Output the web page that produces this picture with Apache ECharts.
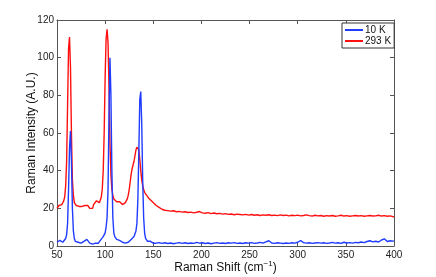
<!DOCTYPE html>
<html>
<head>
<meta charset="utf-8">
<script src="https://cdn.jsdelivr.net/npm/echarts@6/dist/echarts.min.js"></script>
<style>html,body{margin:0;padding:0;background:#fff}#c{width:436px;height:277px}</style>
</head>
<body>
<div id="c"></div>
<script>
// Raman shift (cm^-1)
const shift = [
50,51,52,53,54,55,56,57,58,59,60,61,62,63,64,65,66,67,68,69,
70,71,72,73,74,75,76,77,78,79,80,81,82,83,84,85,86,87,88,89,
90,91,92,93,94,95,96,97,98,99,100,101,102,103,104,105,106,107,108,109,
110,111,112,113,114,115,116,117,118,119,120,121,122,123,124,125,126,127,128,129,
130,131,132,133,134,135,136,137,138,139,140,141,142,143,144,145,146,147,148,149,150,
153,156,159,162,165,168,171,174,177,180,183,186,189,192,195,198,
201,204,207,210,213,216,219,222,225,228,231,234,237,240,243,246,249,
252,255,258,261,264,267,270,273,276,279,282,285,288,291,294,297,
300,303,306,309,312,315,318,321,324,327,330,333,336,339,342,345,348,
351,354,357,360,363,366,369,372,375,378,381,384,387,390,393,396,399,400
];
// 10 K intensity (A.U.)
const k10 = [
2,3,2.5,3,2,2.5,2,2.5,3,4,6,12,30,52,61,45,20,8,4,2.5,
2,1.5,2,1.5,2,1.5,2,2,2.5,3,2.5,3.5,3,2.5,1.5,1,1.5,1,0.5,1,
1.5,1,2,1.5,2.5,3,3.5,4,5,5.5,7,10,15,30,70,100,80,40,15,7,
5,4,3.5,3,2.5,3,2,2.5,2,1.5,2,1.5,2,1.5,2,2.5,3,3.5,4,4.5,
5,6,8,12,25,50,78,82,65,35,15,7,4,3,2.5,2,2,2.5,2,1.5,1.5,
1.5,1.8,1.4,1.7,1.3,1.6,1.2,1.5,1.8,1.4,1.7,1.3,1.6,1.4,1.9,1.5,
1.7,1.3,1.6,1.2,1.5,1.8,1.4,1.6,1.3,1.7,1.5,1.8,1.4,1.6,1.3,1.7,1.5,
1.8,1.4,1.6,1.9,1.5,2.2,2.8,1.6,1.4,1.7,1.5,1.3,1.6,1.4,1.7,1.5,
2,2.9,1.8,1.5,1.7,1.4,1.6,1.8,1.5,1.7,1.4,1.6,1.9,1.5,1.7,1.4,2,
1.6,1.8,1.5,1.9,1.7,2.1,1.8,2.4,2.8,2.2,2.5,2.1,3.2,3.8,2.4,2.8,2.6,2.7
];
// 293 K intensity (A.U.)
const k293 = [
20,21,21.5,21,22,22,23,24,26,32,45,75,105,111,95,60,35,27,23,22,
21.5,21,21.5,21,21,21.5,21,21.5,22,21.5,22,21,21.5,22,20,19.5,19.5,20,22,23,
22.5,24,23,23.5,23,24,26,30,40,60,90,110,115,108,85,55,38,30,27,25,
24.5,24,23.5,24,23,23.5,22.5,23,22,23,22.5,23,24,25,27,30,34,38,41,43,
45,48,51,52.5,52.5,51,46,40,35,32,30,28.5,27.5,27,26,25.5,25,24.5,24,23.5,23,
21.5,20.5,19.5,19,18.8,18.5,18.7,18.2,18.4,18,18.2,17.8,18,17.6,17.9,18.3,
17.6,17.4,17.7,17.2,17.5,17.1,17.3,16.9,17.2,16.8,17,16.6,16.9,16.7,16.5,16.8,16.4,
16.7,16.3,16.6,16.2,16.5,16.3,16.6,16.2,16.4,16.1,16.5,16.2,16.4,16,16.3,16.1,
16.4,16,16.2,16.5,16.1,15.9,16.3,16,16.2,15.8,16.1,15.9,16.2,15.8,16,16.3,15.9,
16.1,15.8,16,16.2,15.9,16.1,15.8,16,16.2,15.9,16,16.3,15.9,16.1,15.8,16,15.6,15.3
];
const seriesNames = ['10 K', '293 K'];
const xTicks = [50, 400, 50];   // min, max, interval
const yTicks = [0, 120, 20];

const pairs = arr => shift.map((x, i) => [x, arr[i]]);
const font = 'Liberation Sans, Arial, Helvetica, sans-serif';
const axisCol = '#555';

const chart = echarts.init(document.getElementById('c'), null, {renderer: 'canvas'});
const baseAxis = {
  axisLine: {show: true, onZero: false, lineStyle: {color: axisCol, width: 1}},
  axisTick: {show: true, inside: true, length: 4, lineStyle: {color: axisCol}},
  splitLine: {show: false}
};
chart.setOption({
  animation: false,
  backgroundColor: '#fff',
  textStyle: {fontFamily: font},
  grid: {left: 57, right: 42, top: 20, bottom: 31, containLabel: false, outerBoundsMode: 'none'},
  legend: {
    data: seriesNames,
    orient: 'vertical',
    left: 342, top: 23,
    width: 50,
    backgroundColor: '#fff',
    borderColor: '#333', borderWidth: 1,
    padding: [2, 3, 2, 3],
    itemGap: 1,
    itemWidth: 18, itemHeight: 2,
    icon: 'rect',
    textStyle: {fontSize: 10, color: '#111', fontFamily: font, padding: [0, 0, 0, -3]}
  },
  xAxis: [
    Object.assign({}, baseAxis, {
      type: 'value', position: 'bottom',
      min: xTicks[0], max: xTicks[1], interval: xTicks[2],
      name: '{a|Raman Shift (cm}{s|−1}{a|)}',
      nameLocation: 'middle', nameGap: 14, nameMoveOverlap: false,
      nameTextStyle: {rich: {
        a: {fontSize: 12, color: '#111', fontFamily: font},
        s: {fontSize: 8, color: '#111', fontFamily: font, verticalAlign: 'top', padding: [0, 0, 7, 0]}
      }},
      axisLabel: {fontSize: 10, color: '#222', margin: 4}
    }),
    Object.assign({}, baseAxis, {
      type: 'value', position: 'top',
      min: xTicks[0], max: xTicks[1], interval: xTicks[2],
      axisLabel: {show: false}
    })
  ],
  yAxis: [
    Object.assign({}, baseAxis, {
      type: 'value', position: 'left',
      min: yTicks[0], max: yTicks[1], interval: yTicks[2],
      name: 'Raman Intensity (A.U.)',
      nameLocation: 'middle', nameGap: 19, nameMoveOverlap: false,
      nameTextStyle: {fontSize: 12, color: '#111', fontFamily: font},
      axisLabel: {fontSize: 10, color: '#222', margin: 3}
    }),
    Object.assign({}, baseAxis, {
      type: 'value', position: 'right',
      min: yTicks[0], max: yTicks[1], interval: yTicks[2],
      axisLabel: {show: false}
    })
  ],
  series: [
    {name: seriesNames[0], type: 'line', data: pairs(k10), showSymbol: false,
     lineStyle: {color: '#1f3cff', width: 1.4}, itemStyle: {color: '#1f3cff'}, z: 3},
    {name: seriesNames[1], type: 'line', data: pairs(k293), showSymbol: false,
     lineStyle: {color: '#ff1010', width: 1.4}, itemStyle: {color: '#ff1010'}, z: 2}
  ]
});
</script>
</body>
</html>
